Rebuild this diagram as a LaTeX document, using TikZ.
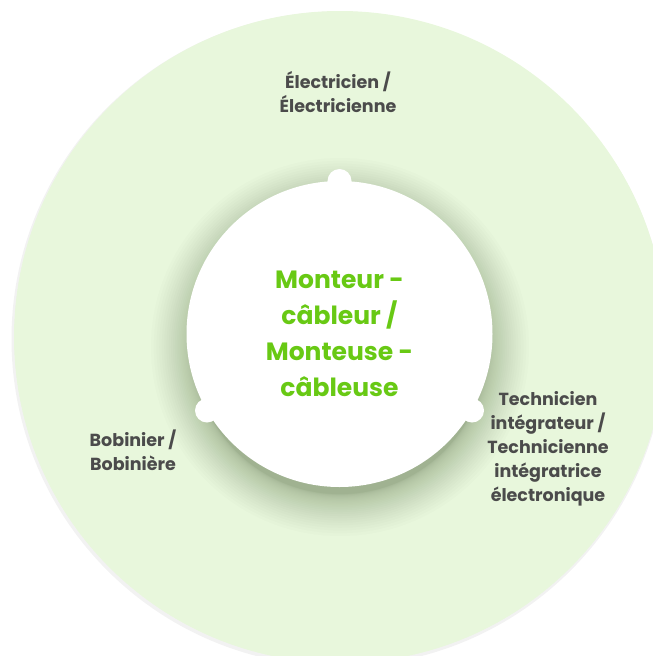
\documentclass[tikz,border=0pt]{standalone}
\usepackage{fontspec}
\setmainfont{Poppins}
\definecolor{outerc}{RGB}{232,247,220}
\definecolor{shadowc}{RGB}{95,118,75}
\definecolor{labelc}{RGB}{75,75,75}
\definecolor{mainc}{RGB}{104,201,20}
\tikzset{
  lbl/.style={align=center, text=labelc, font=\fontsize{17.5}{24}\selectfont\bfseries, inner sep=0pt},
  centertext/.style={align=center, text=mainc, font=\fontsize{25}{36}\selectfont\bfseries, inner sep=0pt},
}
\begin{document}
\begin{tikzpicture}[x=1pt,y=-1pt]
\useasboundingbox (0,0) rectangle (653,656);
\begin{scope}
\clip (0,0) rectangle (653,656);
% outer disc with faint shadow
\fill[black, opacity=0.05] (339,339) circle (327.5);
\fill[outerc] (340,337) circle (326);
% soft shadow of the inner disc
\foreach \i in {0,...,29} {
  \fill[shadowc, opacity=0.021] (340,347) circle ({147+42*(\i/29)*(\i/29)});
}
% inner disc
\fill[white] (339.5,334) circle (153);
\fill[white] (339.5,181) circle (12);
\fill[white] ({339.5+153*cos(210)},{334-153*sin(210)}) circle (12);
\fill[white] ({339.5+153*cos(330)},{334-153*sin(330)}) circle (12);
\end{scope}
\node[centertext] (c) at (339.5,334) {Monteur -\\câbleur /\\Monteuse -\\câbleuse};
\node[lbl] (e) at (338,92) {Électricien /\\Électricienne};
\node[lbl] (t) at (548,449) {Technicien\\intégrateur /\\Technicienne\\intégratrice\\électronique};
\node[lbl] (b) at (133,450) {Bobinier /\\Bobinière};
\end{tikzpicture}
\end{document}
